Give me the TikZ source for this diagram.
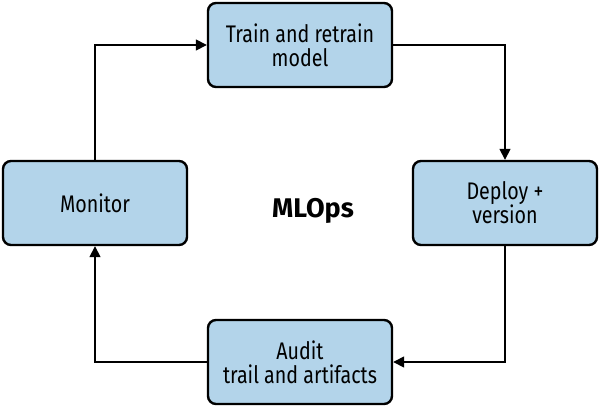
\documentclass[tikz,border=0pt]{standalone}
\usepackage{fontspec}
\setmainfont[FakeStretch=0.82]{Fira Sans}
\newfontfamily\titlefont{Fira Sans}
\usetikzlibrary{arrows.meta}
\definecolor{boxblue}{RGB}{179,212,234}
\def\stagenode{\node[draw=black,fill=boxblue,line width=2.4pt,rounded corners=8pt,minimum width=184pt,minimum height=84pt,align=center,font=\fontsize{24}{24}\selectfont]}

\begin{document}
\begin{tikzpicture}[x=1pt,y=-1pt,>={Triangle[length=11pt,width=11pt]}]
\useasboundingbox (0,0) rectangle (600,408);
\stagenode (train) at (300,45) {Train and retrain\\model};
\stagenode (deploy) at (505,203) {Deploy +\\version};
\stagenode (audit) at (300,362) {Audit\\trail and artifacts};
\stagenode (monitor) at (95,203) {Monitor};
\node[font=\titlefont\fontsize{27}{30}\selectfont\bfseries] (mlops) at (313,211) {MLOps};
\draw[line width=1.5pt,->] (monitor) |- (train);
\draw[line width=1.5pt,->] (train) -| (deploy);
\draw[line width=1.5pt,->] (deploy) |- (audit);
\draw[line width=1.5pt,->] (audit) -| (monitor);
\end{tikzpicture}
\end{document}
